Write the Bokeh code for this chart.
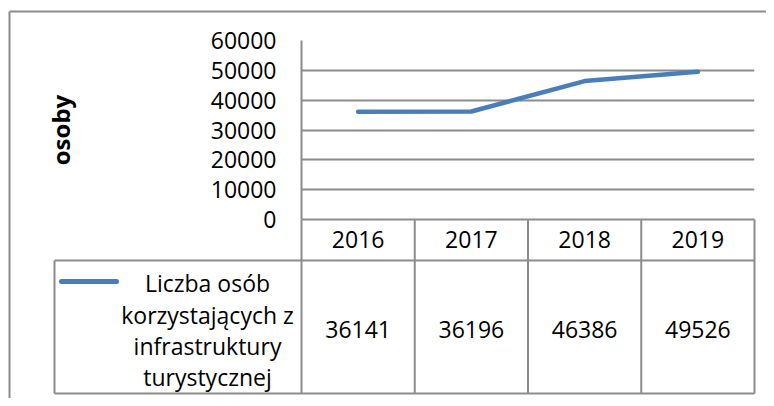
from bokeh.plotting import figure
from bokeh.models import Range1d, FixedTicker, LinearAxis
from bokeh.core.properties import value
from bokeh.embed import file_html
from bokeh.resources import INLINE

# ---- data ----
years = ["2016", "2017", "2018", "2019"]
visitors = [36141, 36196, 46386, 49526]
y_ticks = [0, 10000, 20000, 30000, 40000, 50000, 60000]
series_name = "Liczba osób korzystających z infrastruktury turystycznej"
series_lines = ["Liczba osób", "korzystających z", "infrastruktury", "turystycznej"]
y_title = "osoby"

FONT = "Open Sans"
FS = "23px"
GRAY = "#8c8c8c"
BLUE = "#4A7EBB"

# ---- layout (reference pixels) ----
W, H = 766, 398
PL, PR, PT, PB = 301, 754, 40, 219          # plot area

p = figure(width=W, height=H, output_backend="svg", toolbar_location=None,
           x_range=Range1d(0, len(years)), y_range=Range1d(0, 60000),
           min_border_left=PL, min_border_right=W - PR,
           min_border_top=PT, min_border_bottom=H - PB,
           x_axis_location=None, y_axis_location=None)
p.outline_line_color = None
p.background_fill_color = "white"
p.border_fill_color = "white"

# extra ranges expressed in pixel units for table layout
p.extra_x_ranges = {"px": Range1d(PL, PR)}
p.extra_y_ranges = {"py": Range1d(PB, PT)}

yaxis = LinearAxis(ticker=FixedTicker(ticks=y_ticks), axis_label=y_title)
yaxis.axis_line_color = GRAY
yaxis.axis_line_width = 2
yaxis.major_tick_line_color = None
yaxis.minor_tick_line_color = None
yaxis.major_tick_out = 0
yaxis.major_tick_in = 0
yaxis.major_label_standoff = 25
yaxis.major_label_text_font = FONT
yaxis.major_label_text_font_size = FS
yaxis.major_label_text_color = "black"
yaxis.axis_label_text_font = FONT
yaxis.axis_label_text_font_size = "24px"
yaxis.axis_label_text_font_style = "bold"
yaxis.axis_label_text_color = "black"
yaxis.axis_label_standoff = 131
p.add_layout(yaxis, "left")

p.ygrid.ticker = FixedTicker(ticks=y_ticks)
p.ygrid.grid_line_color = GRAY
p.ygrid.grid_line_width = 2
p.xgrid.grid_line_color = None

xs = [i + 0.5 for i in range(len(years))]
p.line(xs, visitors, line_color=BLUE, line_width=4.5, line_cap="round", line_join="round")

# ---- data table below the plot (drawn un-clipped at overlay level) ----
HEADER_BOTTOM = 260
ROW_BOTTOM = 393
LEG_LEFT = 54
ROW_MID = 329

n = len(years)
p.segment(x0=[PL, LEG_LEFT, LEG_LEFT], x1=[PR, PR, PR],
          y0=[PB, HEADER_BOTTOM, ROW_BOTTOM], y1=[PB, HEADER_BOTTOM, ROW_BOTTOM],
          x_range_name="px", y_range_name="py", line_color=GRAY, line_width=2, level="overlay")
p.segment(x0=list(range(n + 1)), x1=list(range(n + 1)),
          y0=[PB] * (n + 1), y1=[ROW_BOTTOM] * (n + 1),
          y_range_name="py", line_color=GRAY, line_width=2, level="overlay")
p.segment(x0=[LEG_LEFT], x1=[LEG_LEFT], y0=[HEADER_BOTTOM], y1=[ROW_BOTTOM],
          x_range_name="px", y_range_name="py", line_color=GRAY, line_width=2, level="overlay")

# outer chart frame
p.segment(x0=[9, 9], x1=[9, 800], y0=[11, 11], y1=[420, 11],
          x_range_name="px", y_range_name="py", line_color=GRAY, line_width=2, level="overlay")

# header (years)
p.text(x=xs, y=[239] * n, text=years, y_range_name="py",
       text_font=value(FONT), text_font_size=FS, text_align="center",
       text_baseline="middle", text_color="black", level="overlay")
# values
p.text(x=xs, y=[ROW_MID] * n, text=[str(v) for v in visitors],
       y_range_name="py", text_font=value(FONT), text_font_size=FS, text_align="center",
       text_baseline="middle", text_color="black", level="overlay")
# legend key
p.line(x=[61, 116], y=[281, 281], x_range_name="px", y_range_name="py",
       line_color=BLUE, line_width=5, line_cap="round", level="overlay")
p.text(x=[207] * len(series_lines), y=[282, 314, 345.5, 376.5], text=series_lines,
       x_range_name="px", y_range_name="py", text_font=value(FONT), text_font_size=FS,
       text_align="center", text_baseline="middle",
       text_color="black", level="overlay")

open("out.html", "w").write(file_html(p, INLINE))
